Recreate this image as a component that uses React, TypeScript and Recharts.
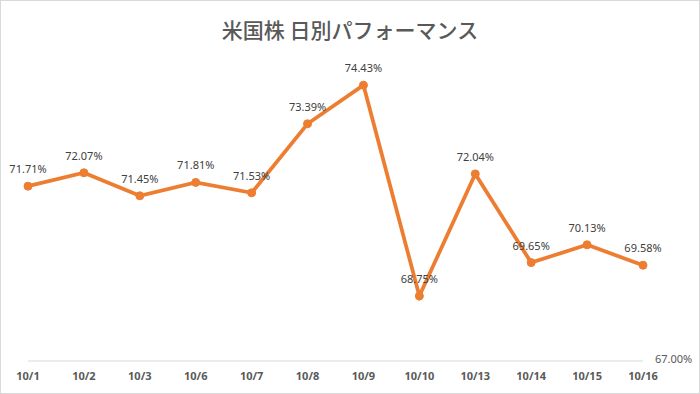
import React from 'react';
import { LineChart, Line, XAxis, YAxis, LabelList } from 'recharts';

const categories = ['10/1', '10/2', '10/3', '10/6', '10/7', '10/8', '10/9', '10/10', '10/13', '10/14', '10/15', '10/16'];
const performance = [71.71, 72.07, 71.45, 71.81, 71.53, 73.39, 74.43, 68.75, 72.04, 69.65, 70.13, 69.58];
const yTicks = [67];

const data = categories.map((c, i) => ({ day: c, value: performance[i] }));

const FONT = '"Noto Sans", "Noto Sans CJK JP", sans-serif';

export default function App() {
  return (
    <div style={{ position: 'absolute', left: 0, top: 0, width: 700, height: 394, background: '#fff' }}>
      <style>{'body{margin:0}'}</style>
      <div
        style={{
          position: 'absolute',
          left: 0,
          top: 14,
          width: 700,
          textAlign: 'center',
          fontFamily: '"Noto Sans CJK JP", sans-serif',
          fontSize: 21,
          fontWeight: 500,
          color: '#595959',
          lineHeight: '30px',
        }}
      >
        米国株 日別パフォーマンス
      </div>
      <LineChart width={700} height={394} data={data} margin={{ top: 64, right: 0, left: 28, bottom: 3 }}>
        <XAxis
          dataKey="day"
          tickLine={false}
          axisLine={{ stroke: '#D9D9D9', strokeWidth: 1 }}
          tick={{ fill: '#595959', fontSize: 11, fontWeight: 700, fontFamily: FONT }}
          tickMargin={5}
          height={30}
          interval={0}
          padding={{ left: 0, right: 0 }}
        />
        <YAxis
          orientation="right"
          domain={[67, 75]}
          ticks={yTicks}
          width={57}
          axisLine={false}
          tickLine={false}
          tickMargin={6}
          tickFormatter={(v: number) => `${v.toFixed(2)}%`}
          tick={{ fill: '#595959', fontSize: 11, fontFamily: FONT, dy: -2 }}
        />
        <Line
          type="linear"
          dataKey="value"
          stroke="#ED7D31"
          strokeWidth={3.75}
          dot={{ r: 4, fill: '#ED7D31', stroke: '#ED7D31', strokeWidth: 1 }}
          activeDot={false}
          isAnimationActive={false}
        >
          <LabelList
            dataKey="value"
            position="top"
            offset={13}
            formatter={(v: number) => `${Number(v).toFixed(2)}%`}
            style={{ fill: '#404040', fontSize: 11, fontFamily: FONT }}
          />
        </Line>
      </LineChart>
      <div
        style={{
          position: 'absolute',
          left: 0,
          top: 0,
          width: 700,
          height: 394,
          boxSizing: 'border-box',
          border: '1px solid #D9D9D9',
          pointerEvents: 'none',
        }}
      />
    </div>
  );
}
